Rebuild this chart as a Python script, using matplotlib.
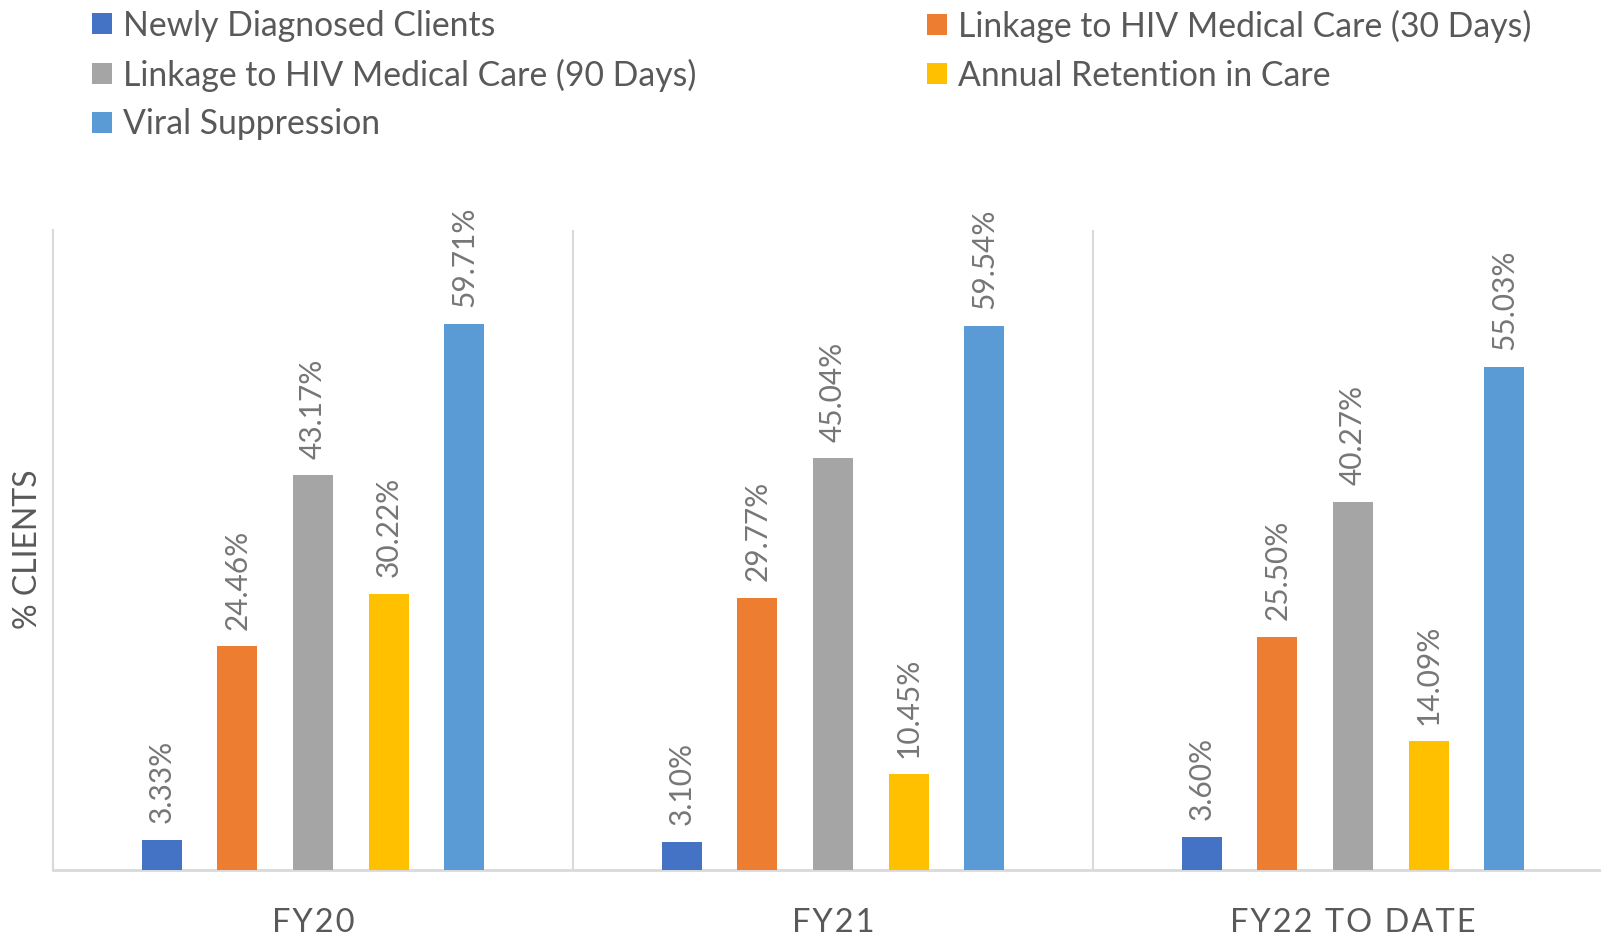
import matplotlib.pyplot as plt
import numpy as np

# Data
groups = ["FY20", "FY21", "FY22 TO DATE"]
series = ["Newly Diagnosed Clients",
          "Linkage to HIV Medical Care (30 Days)",
          "Linkage to HIV Medical Care (90 Days)",
          "Annual Retention in Care",
          "Viral Suppression"]
newly_diagnosed = [3.33, 3.10, 3.60]
linkage_30 = [24.46, 29.77, 25.50]
linkage_90 = [43.17, 45.04, 40.27]
retention = [30.22, 10.45, 14.09]
viral_supp = [59.71, 59.54, 55.03]
colors = ["#4472C4", "#ED7D31", "#A5A5A5", "#FFC000", "#5B9BD5"]

values = [newly_diagnosed, linkage_30, linkage_90, retention, viral_supp]

plt.rcParams['font.family'] = ['Lato', 'DejaVu Sans']
text_col = "#595959"
grid_col = "#D9D9D9"

fig = plt.figure(figsize=(16.01, 9.36), dpi=100)
ax = fig.add_axes([53 / 1601, 66 / 936, 1560 / 1601, 640 / 936])

x = np.arange(len(groups))
step = 0.1454
width = 0.077
bars = []
for k, (name, vals, c) in enumerate(zip(series, values, colors)):
    b = ax.bar(x + (k - 2) * step, vals, width, color=c, label=name, zorder=3)
    bars.append(b)
    ax.bar_label(b, labels=["{:.2f}%".format(v) for v in vals], padding=12,
                 rotation=90, fontsize=21.5, color="#767676")

ax.set_xlim(-0.5, 2.5)
ax.set_ylim(0, 70)
for xv in [0.5, 1.5, 2.5]:
    ax.axvline(xv, color=grid_col, lw=1.5, zorder=1)

for s in ["top", "right"]:
    ax.spines[s].set_visible(False)
ax.spines["left"].set_color(grid_col)
ax.spines["left"].set_linewidth(1.5)
ax.spines["bottom"].set_color(grid_col)
ax.spines["bottom"].set_linewidth(2)

ax.set_yticks([])
ax.set_xticks(x)
hs = "\u200a"
spaced = [hs.join(list(g)) for g in groups]
ax.set_xticklabels(spaced, fontsize=23.5, color=text_col)
ax.tick_params(axis="x", length=0, pad=27)
fig.text(28 / 1601, 1 - 549 / 936, "% CLIENTS", rotation=90, ha="center", va="center",
         fontsize=23, color=text_col)

# legend in two separate columns
leg_kw = dict(frameon=False, fontsize=24.3, labelcolor=text_col, handlelength=0.6,
              handleheight=0.6, handletextpad=0.33, labelspacing=0.5, borderaxespad=0)
l1 = fig.legend([bars[0], bars[2], bars[4]], [series[0], series[2], series[4]],
                loc="upper left", bbox_to_anchor=(78 / 1601, 1 + 4 / 936), **leg_kw)
l2 = fig.legend([bars[1], bars[3]], [series[1], series[3]],
                loc="upper left", bbox_to_anchor=(913 / 1601, 1 + 4 / 936), **leg_kw)

plt.savefig("out.png", dpi=100)
